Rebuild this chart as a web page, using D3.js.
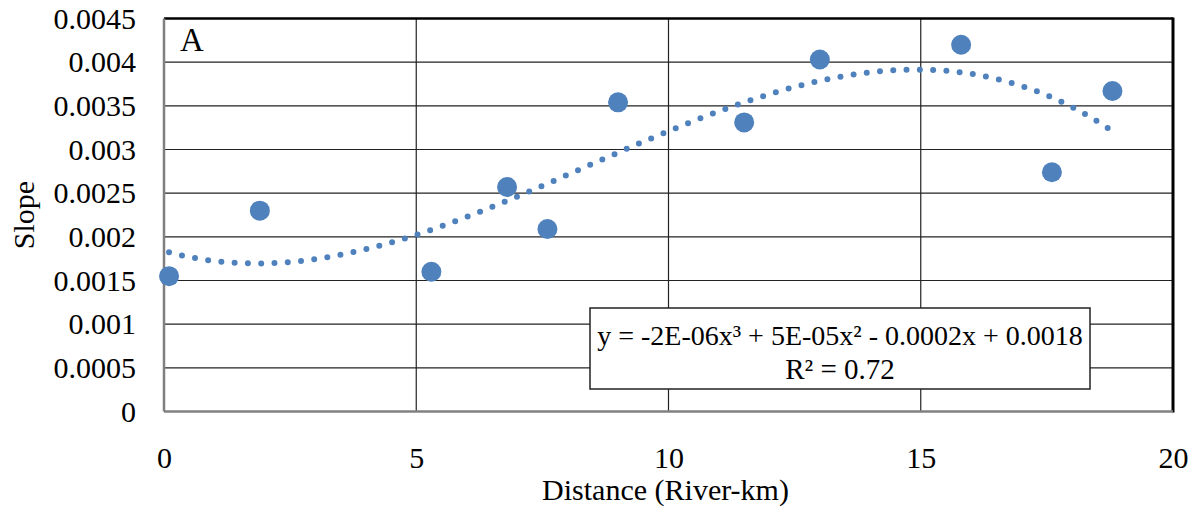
<!DOCTYPE html>
<html>
<head>
<meta charset="utf-8">
<script src="https://cdn.jsdelivr.net/npm/d3@7"></script>
<style>
  body { margin: 0; background: #fff; }
  svg text { font-family: "Liberation Serif", "DejaVu Serif", serif !important; fill: #000; }
</style>
</head>
<body>
<div id="chart"></div>
<script>
// data
var distance = [0.1, 1.9, 5.3, 6.8, 7.6, 9.0, 11.5, 13.0, 15.8, 17.6, 18.8];
var slope = [0.00155, 0.00230, 0.00160, 0.00257, 0.00209, 0.00354, 0.00331, 0.00403, 0.00420, 0.00274, 0.00367];
var xTicks = [0, 5, 10, 15, 20];
var yTicks = [0, 0.0005, 0.001, 0.0015, 0.002, 0.0025, 0.003, 0.0035, 0.004, 0.0045];
var yTickLabels = ["0", "0.0005", "0.001", "0.0015", "0.002", "0.0025", "0.003", "0.0035", "0.004", "0.0045"];
var eqText = "y = -2E-06x³ + 5E-05x² - 0.0002x + 0.0018";
var r2Text = "R² = 0.72";

var svgWidth = 1200;
var svgHeight = 517;
var margin = { top: 18.5, right: 27, bottom: 105.5, left: 164 };
var width = svgWidth - margin.left - margin.right;
var height = svgHeight - margin.top - margin.bottom;

var blue = "#4F81BD";

var svg = d3.select("#chart")
  .append("svg")
  .attr("width", svgWidth)
  .attr("height", svgHeight);

var chartGroup = svg.append("g")
  .attr("transform", `translate(${margin.left}, ${margin.top})`);

var xScale = d3.scaleLinear().domain([0, 20]).range([0, width]);
var yScale = d3.scaleLinear().domain([0, 0.0045]).range([height, 0]);

// gridlines
chartGroup.append("g")
  .selectAll("line")
  .data(yTicks.slice(1, -1))
  .enter()
  .append("line")
  .attr("x1", 0).attr("x2", width)
  .attr("y1", d => yScale(d)).attr("y2", d => yScale(d))
  .attr("stroke", "#222").attr("stroke-width", 1.2);

chartGroup.append("g")
  .selectAll("line")
  .data(xTicks.slice(1, -1))
  .enter()
  .append("line")
  .attr("y1", 0).attr("y2", height)
  .attr("x1", d => xScale(d)).attr("x2", d => xScale(d))
  .attr("stroke", "#222").attr("stroke-width", 1.2);

// axes (labels only)
var bottomAxis = d3.axisBottom(xScale).tickValues(xTicks).tickSize(0).tickPadding(35);
var leftAxis = d3.axisLeft(yScale).tickValues(yTicks).tickSize(0).tickPadding(28)
  .tickFormat((d, i) => yTickLabels[i]);

var xAxis = chartGroup.append("g")
  .attr("transform", `translate(0, ${height})`)
  .attr("font-family", null)
  .call(bottomAxis);
xAxis.select(".domain").remove();
xAxis.selectAll("text").style("font-size", "30px");

var yAxis = chartGroup.append("g").call(leftAxis);
yAxis.select(".domain").remove();
yAxis.selectAll("text").style("font-size", "30px");

// plot area border
chartGroup.append("line").attr("x1", 0).attr("x2", width).attr("y1", 0).attr("y2", 0)
  .attr("stroke", "#000").attr("stroke-width", 2.5);
chartGroup.append("line").attr("x1", width).attr("x2", width).attr("y1", -1).attr("y2", height + 1)
  .attr("stroke", "#000").attr("stroke-width", 3);
chartGroup.append("line").attr("x1", 0).attr("x2", 0).attr("y1", 0).attr("y2", height)
  .attr("stroke", "#808080").attr("stroke-width", 2.5);
chartGroup.append("line").attr("x1", 0).attr("x2", width).attr("y1", height).attr("y2", height)
  .attr("stroke", "#808080").attr("stroke-width", 2.5);

// cubic least squares trendline
function polyFit(xs, ys, deg) {
  var n = deg + 1;
  var A = [];
  for (var i = 0; i < n; i++) {
    A.push([]);
    for (var j = 0; j < n; j++) A[i].push(d3.sum(xs, x => Math.pow(x, i + j)));
    A[i].push(d3.sum(xs, (x, k) => Math.pow(x, i) * ys[k]));
  }
  for (var c = 0; c < n; c++) {
    var p = c;
    for (var r = c + 1; r < n; r++) if (Math.abs(A[r][c]) > Math.abs(A[p][c])) p = r;
    var tmp = A[c]; A[c] = A[p]; A[p] = tmp;
    for (var r2 = 0; r2 < n; r2++) {
      if (r2 === c) continue;
      var f = A[r2][c] / A[c][c];
      for (var k = c; k <= n; k++) A[r2][k] -= f * A[c][k];
    }
  }
  return A.map((row, i) => row[n] / row[i]);
}
var coef = polyFit(distance, slope, 3);
var trendX = d3.range(distance[0], distance[distance.length - 1] + 0.001, 0.05);
var trendData = trendX.map(x => [x, coef[0] + coef[1] * x + coef[2] * x * x + coef[3] * x * x * x]);

var line = d3.line()
  .x(d => xScale(d[0]))
  .y(d => yScale(d[1]));

chartGroup.append("path")
  .datum(trendData)
  .attr("d", line)
  .attr("fill", "none")
  .attr("stroke", blue)
  .attr("stroke-width", 6)
  .attr("stroke-linecap", "round")
  .attr("stroke-dasharray", "0 13.3");

// points
chartGroup.selectAll("circle.pt")
  .data(distance)
  .enter()
  .append("circle")
  .attr("class", "pt")
  .attr("cx", d => xScale(d))
  .attr("cy", (d, i) => yScale(slope[i]))
  .attr("r", 10)
  .attr("fill", blue);

// panel letter
chartGroup.append("text")
  .attr("x", 16).attr("y", 32)
  .style("font-size", "33px")
  .text("A");

// equation box
var box = chartGroup.append("g").attr("transform", `translate(${590 - margin.left}, ${308 - margin.top})`);
box.append("rect")
  .attr("width", 500).attr("height", 81)
  .attr("fill", "#fff").attr("stroke", "#222").attr("stroke-width", 1.5);
box.append("text")
  .attr("x", 250).attr("y", 37)
  .attr("text-anchor", "middle")
  .style("font-size", "28px")
  .text(eqText);
box.append("text")
  .attr("x", 250).attr("y", 71)
  .attr("text-anchor", "middle")
  .style("font-size", "29px")
  .text(r2Text);

// axis titles
svg.append("text")
  .attr("x", margin.left + width / 2 - 3).attr("y", 500)
  .attr("text-anchor", "middle")
  .style("font-size", "30px")
  .text("Distance (River-km)");

svg.append("text")
  .attr("transform", "translate(34, 215) rotate(-90)")
  .attr("text-anchor", "middle")
  .style("font-size", "30px")
  .text("Slope");
</script>
</body>
</html>
